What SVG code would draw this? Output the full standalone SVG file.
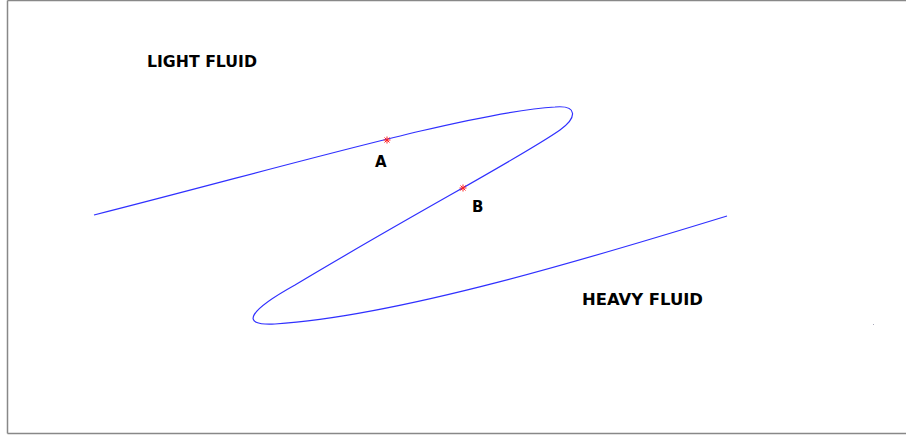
<svg xmlns="http://www.w3.org/2000/svg" width="907" height="435" viewBox="0 0 907 435">
<style>
.lbl{font-family:"DejaVu Sans","Liberation Sans",sans-serif;font-weight:bold;font-size:15px;fill:#000}
.curve{fill:none;stroke:#3030ff;stroke-width:1.2}
.star{stroke:#ff2020;stroke-width:1}
</style>
<defs>
<g id="ast" class="star"><line x1="-3.5" y1="0" x2="3.5" y2="0"/><line x1="0" y1="-3.5" x2="0" y2="3.5"/><line x1="-2.5" y1="-2.5" x2="2.5" y2="2.5"/><line x1="-2.5" y1="2.5" x2="2.5" y2="-2.5"/></g>
</defs>
<rect width="907" height="435" fill="#fff"/>
<g id="frame" stroke="#888" stroke-width="1.5" fill="none">
<line x1="7.5" y1="0.5" x2="906" y2="0.5"/>
<line x1="7.5" y1="0.5" x2="7.5" y2="433.5"/>
<line x1="7.5" y1="433.5" x2="906" y2="433.5"/>
</g>
<g id="connectors">
<path class="curve" d="M94,215 C280,168 470,112 555,107 C578,105 577,118 560,130 C520,158 420,210 295,285 C250,310 238,326 275,324 C400,316 600,255 727,216"/>
</g>
<g id="pointA"><use href="#ast" x="387" y="140"/><text class="lbl" x="375" y="167" font-size="14">A</text></g>
<g id="pointB"><use href="#ast" x="463" y="188"/><text class="lbl" x="472" y="212" font-size="14">B</text></g>
<g id="light"><text class="lbl" x="147" y="67" textLength="110" lengthAdjust="spacingAndGlyphs">LIGHT FLUID</text></g>
<g id="heavy"><text class="lbl" x="582" y="305" textLength="121" lengthAdjust="spacingAndGlyphs">HEAVY FLUID</text></g>
<rect x="873" y="324" width="1" height="1" fill="#aab"/>
</svg>
